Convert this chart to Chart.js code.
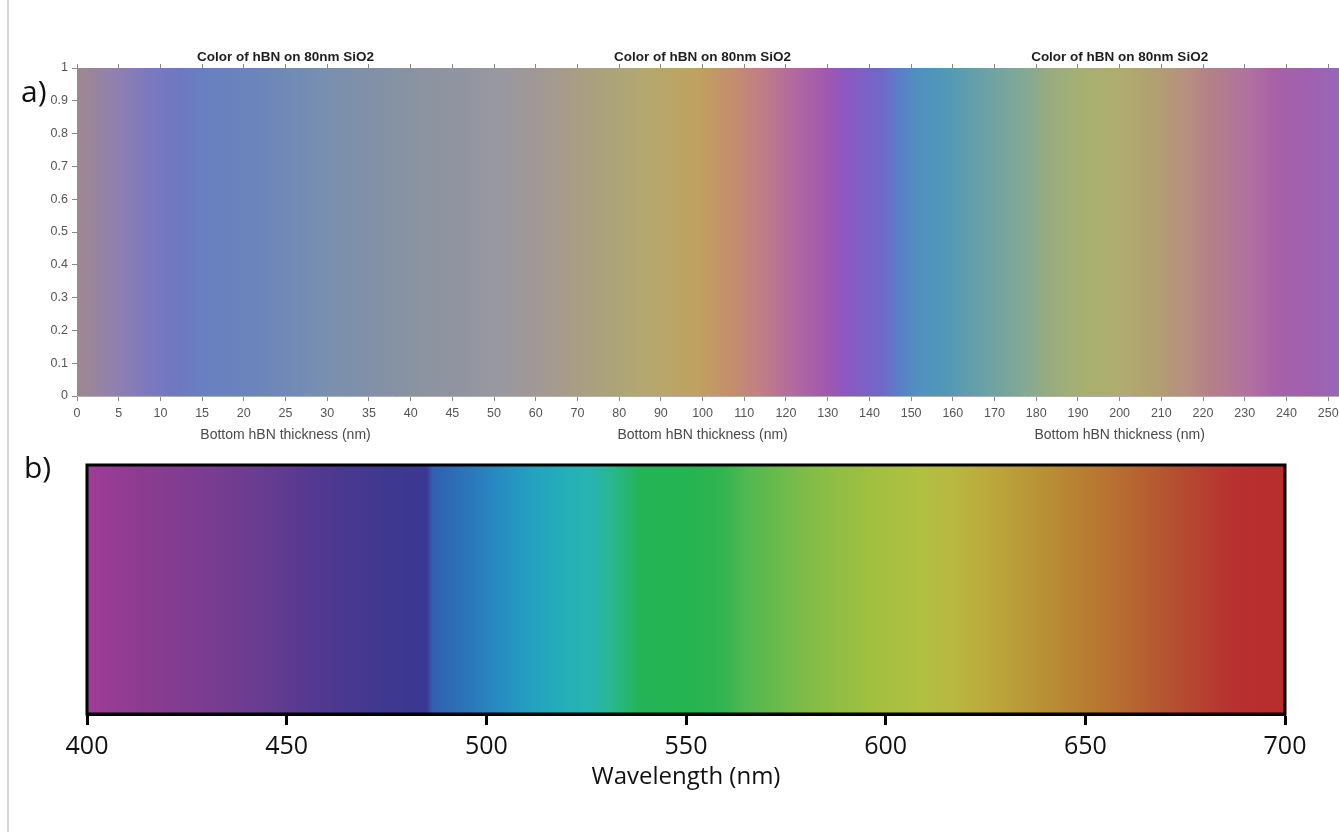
<!DOCTYPE html>
<html lang="en">
<head>
<meta charset="UTF-8">
<title>Color of hBN on 80nm SiO2 / Wavelength</title>
<script src="https://cdn.jsdelivr.net/npm/chart.js"></script>
<style>
    body {
        margin: 0;
        background: #fff;
        width: 1339px;
        height: 832px;
        overflow: hidden;
        position: relative;
        font-family: "Open Sans", sans-serif;
    }
    .edge {
        position: absolute;
        left: 7px;
        top: 0;
        height: 832px;
        border-left: 2px solid #d6d6d6;
    }
    .panel-label {
        position: absolute;
        font-size: 30px;
        line-height: 1;
        color: #111;
    }
    #boxA { position: absolute; left: 0; top: 0; width: 1339px; height: 450px; }
    #boxB { position: absolute; left: 0; top: 450px; width: 1339px; height: 352px; }
</style>
</head>
<body>

<div class="edge"></div>
<div id="boxA"><canvas id="graficoA"></canvas></div>
<div id="boxB"><canvas id="graficoB"></canvas></div>
<div class="panel-label" style="left:21px; top:76px;">a)</div>
<div class="panel-label" style="left:24px; top:452px;">b)</div>

<script>
// panel a) - thickness axis (ticks are evenly spaced, values are not)
const thicknessTicks = [0, 5, 10, 15, 20, 25, 30, 35, 40, 45, 50, 60, 70, 80, 90, 100,
    110, 120, 130, 140, 150, 160, 170, 180, 190, 200, 210, 220, 230, 240, 250];
const thicknessRange = [0, 252.6];
const fractionTicks = [0, 0.1, 0.2, 0.3, 0.4, 0.5, 0.6, 0.7, 0.8, 0.9, 1];

// colour seen at each thickness (nm)
const thicknessStops = [0, 4.6, 9.1, 12.3, 15.3, 20.7, 24.3, 29.7, 34.5, 41.1, 45.3, 51.4,
    58.6, 68, 79, 86, 94.6, 99.4, 107, 114.7, 122.4, 130, 134, 142.6, 147.4, 151.4, 158,
    166.5, 176, 183, 191.7, 200, 208.5, 215.7, 221.7, 231.3, 237.3, 245.7, 252.6];
const thicknessColors = ['#a08890', '#9080b0', '#7a78c0', '#6e78c0', '#6880c0', '#6a84bc',
    '#7088b8', '#7890b0', '#8090a8', '#8a94a0', '#9094a0', '#9898a0', '#a09898', '#a89c88',
    '#aca478', '#b4a870', '#bca464', '#c0a060', '#c48e6c', '#c07c88', '#b068a0', '#a058b0',
    '#8c58c0', '#7068c8', '#5880c8', '#5090c0', '#5098b8', '#68a0a8', '#80a898', '#98ac80',
    '#a8b070', '#b0ac70', '#b0a070', '#b89080', '#b48088', '#b070a0', '#a860a8', '#a060b0',
    '#9868b8'];

const subplotTitle = 'Color of hBN on 80nm SiO2';
const subplotXLabel = 'Bottom hBN thickness (nm)';
const subplotCenters = [25, 100, 200];

// panel b) - visible spectrum
const wavelengthTicks = [400, 450, 500, 550, 600, 650, 700];
const wavelengthStops = [400, 413.5, 428.5, 444, 459, 474, 480, 485, 486.5, 493, 502, 511,
    520, 526, 532, 538, 550, 559, 565, 580, 596, 608, 617, 626, 642, 657, 672, 687, 700];
const wavelengthColors = ['#a03c98', '#8c3c90', '#7c3c90', '#683c90', '#503890', '#403890',
    '#3c3890', '#383894', '#3060b0', '#2c70b8', '#2888c0', '#24a0c0', '#24b0b8', '#28b4b0',
    '#28b888', '#24b458', '#24b450', '#30b450', '#50b850', '#80bc48', '#a0c040', '#b0c040',
    '#b8b840', '#bca83c', '#b88c34', '#b87030', '#b45030', '#b83030', '#b82c2c'];

// thickness (nm) -> position on the evenly spaced tick axis
function nmToIdx(nm) {
    const n = thicknessTicks.length;
    for (let i = 0; i < n - 1; i++) {
        if (nm <= thicknessTicks[i + 1]) {
            return i + (nm - thicknessTicks[i]) / (thicknessTicks[i + 1] - thicknessTicks[i]);
        }
    }
    const step = thicknessTicks[n - 1] - thicknessTicks[n - 2];
    return (n - 1) + (nm - thicknessTicks[n - 1]) / step;
}

function stripGradient(chart, positions, colors) {
    const area = chart.chartArea;
    if (!area) return colors[0];
    const xScale = chart.scales.x;
    const g = chart.ctx.createLinearGradient(area.left, 0, area.right, 0);
    positions.forEach((p, i) => {
        const px = xScale.getPixelForValue(p);
        const f = Math.min(1, Math.max(0, (px - area.left) / (area.right - area.left)));
        g.addColorStop(f, colors[i]);
    });
    return g;
}

const legendOff = { legend: { display: false }, tooltip: { enabled: false } };

// ---------- a) ----------
const textosA = {
    id: 'textosA',
    afterDraw(chart) {
        const c = chart.ctx;
        const area = chart.chartArea;
        c.save();
        c.textAlign = 'center';
        c.textBaseline = 'middle';
        subplotCenters.forEach(nm => {
            const x = chart.scales.x.getPixelForValue(nmToIdx(nm));
            c.fillStyle = '#1e1e1e';
            c.font = 'bold 13.5px "Liberation Sans", Arial, sans-serif';
            c.fillText(subplotTitle, x, area.top - 11);
            c.fillStyle = '#4a4a4a';
            c.font = '14px "Liberation Sans", Arial, sans-serif';
            c.fillText(subplotXLabel, x, area.bottom + 39);
        });
        c.restore();
    }
};

const idxTicks = s => { s.ticks = thicknessTicks.map((t, i) => ({ value: i })); };
const noSidePad = h => s => { s.height = h; s.paddingLeft = 0; s.paddingRight = 0; };
const fontA = { family: '"Liberation Sans", Arial, sans-serif', size: 12.5 };

new Chart(document.getElementById('graficoA'), {
    type: 'line',
    data: {
        datasets: [{
            data: [
                { x: nmToIdx(thicknessRange[0]), y: 1 },
                { x: nmToIdx(thicknessRange[1]), y: 1 }
            ],
            fill: 'origin',
            borderWidth: 0,
            pointRadius: 0,
            backgroundColor: ctx => stripGradient(ctx.chart, thicknessStops.map(nmToIdx), thicknessColors)
        }]
    },
    options: {
        responsive: true,
        maintainAspectRatio: false,
        animation: false,
        layout: { padding: { top: 64, left: 0, right: 0, bottom: 0 } },
        plugins: legendOff,
        scales: {
            x: {
                type: 'linear',
                min: nmToIdx(thicknessRange[0]),
                max: nmToIdx(thicknessRange[1]),
                afterBuildTicks: idxTicks,
                afterFit: noSidePad(54),
                ticks: {
                    callback: v => thicknessTicks[v],
                    autoSkip: false,
                    maxRotation: 0,
                    padding: 5,
                    color: '#555',
                    font: fontA
                },
                grid: { drawOnChartArea: false, tickLength: 5, color: '#888' },
                border: { color: '#b0b0b0' }
            },
            x2: {
                type: 'linear',
                position: 'top',
                min: nmToIdx(thicknessRange[0]),
                max: nmToIdx(thicknessRange[1]),
                afterBuildTicks: idxTicks,
                afterFit: noSidePad(4),
                ticks: { display: false },
                grid: { drawOnChartArea: false, tickLength: 4, color: '#888' },
                border: { color: '#b0b0b0' }
            },
            y: {
                min: 0,
                max: 1,
                afterBuildTicks: s => { s.ticks = fractionTicks.map(v => ({ value: v })); },
                afterFit: s => { s.width = 77; s.paddingTop = 0; s.paddingBottom = 0; },
                ticks: { callback: v => String(v), padding: 4, color: '#555', font: fontA },
                grid: { drawOnChartArea: false, tickLength: 5, color: '#888' },
                border: { color: '#b0b0b0' }
            }
        }
    },
    plugins: [textosA]
});

// ---------- b) ----------
const molduraB = {
    id: 'molduraB',
    afterDatasetsDraw(chart) {
        const a = chart.chartArea;
        const c = chart.ctx;
        c.save();
        c.strokeStyle = '#000';
        c.lineWidth = 3;
        c.strokeRect(a.left, a.top, a.right - a.left, a.bottom - a.top);
        c.restore();
    }
};

new Chart(document.getElementById('graficoB'), {
    type: 'line',
    data: {
        datasets: [{
            data: [
                { x: wavelengthTicks[0], y: 1 },
                { x: wavelengthTicks[wavelengthTicks.length - 1], y: 1 }
            ],
            fill: 'origin',
            borderWidth: 0,
            pointRadius: 0,
            backgroundColor: ctx => stripGradient(ctx.chart, wavelengthStops, wavelengthColors)
        }]
    },
    options: {
        responsive: true,
        maintainAspectRatio: false,
        animation: false,
        layout: { padding: { top: 15, left: 87, right: 54, bottom: 0 } },
        plugins: legendOff,
        scales: {
            x: {
                type: 'linear',
                min: wavelengthTicks[0],
                max: wavelengthTicks[wavelengthTicks.length - 1],
                afterBuildTicks: s => { s.ticks = wavelengthTicks.map(v => ({ value: v })); },
                afterFit: s => { s.height = 88; },
                ticks: {
                    padding: 7,
                    maxRotation: 0,
                    color: '#111',
                    font: { family: '"Open Sans", sans-serif', size: 25 }
                },
                grid: { drawOnChartArea: false, tickLength: 11, tickWidth: 3, tickColor: '#000' },
                border: { color: '#000', width: 3 },
                title: {
                    display: true,
                    text: 'Wavelength (nm)',
                    color: '#111',
                    font: { family: '"Open Sans", sans-serif', size: 24 },
                    padding: { top: 0, bottom: 10 }
                }
            },
            y: { display: false, min: 0, max: 1 }
        }
    },
    plugins: [molduraB]
});
</script>

</body>
</html>
